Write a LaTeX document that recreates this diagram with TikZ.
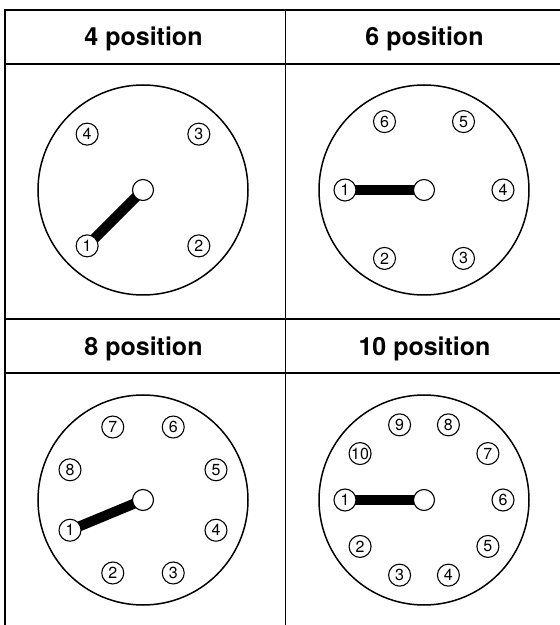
\documentclass[tikz,border=0pt]{standalone}
\usepackage{fontspec}
\setmainfont{TeX Gyre Heros}
\usetikzlibrary{calc}
\pgfdeclarelayer{back}
\pgfsetlayers{back,main}
\tikzset{
  grid/.style={line width=1.6pt},
  dial/.style={line width=1.5pt},
  pin/.style={circle,draw,line width=1.1pt,fill=white,minimum size=22pt,inner sep=0pt,
    font=\fontsize{16}{16}\selectfont},
  hub/.style={circle,draw,line width=1.1pt,fill=white,minimum size=21pt,inner sep=0pt},
  arm/.style={line width=10pt},
  title/.style={font=\bfseries\fontsize{25}{30}\selectfont,anchor=base}
}

\begin{document}
\begin{tikzpicture}[x=1pt,y=1pt]
  \useasboundingbox (0,0) rectangle (560,625);
  % table lines
  \draw[grid] (5,0) -- (5,615) -- (560,615);
  \draw[grid] (285.5,0) -- (285.5,615);
  \foreach \y in {561,306,252}
    \draw[grid] (5,\y) -- (560,\y);
  % dials: pins / centre x / centre y / angle of pin 1
  \foreach \n/\cx/\cy/\a in {4/143/435/225, 6/424/435/180, 8/143/125/202.5, 10/424/125/180}{
    \node[title] (t\n) at (\cx+0.5,\cy+144.5) {\n\ position};
    \draw[dial] (\cx,\cy) circle (105);
    \node[hub] (hub\n) at (\cx,\cy) {};
    \foreach \i in {1,...,\n}{
      \node[pin] (p\n-\i) at ($(\cx,\cy)+({\a+360/\n*(\i-1)}:79)$) {\i};
    }
    \begin{pgfonlayer}{back}
      \draw[arm] (p\n-1.center) -- (hub\n.center);
    \end{pgfonlayer}
  }
\end{tikzpicture}
\end{document}
